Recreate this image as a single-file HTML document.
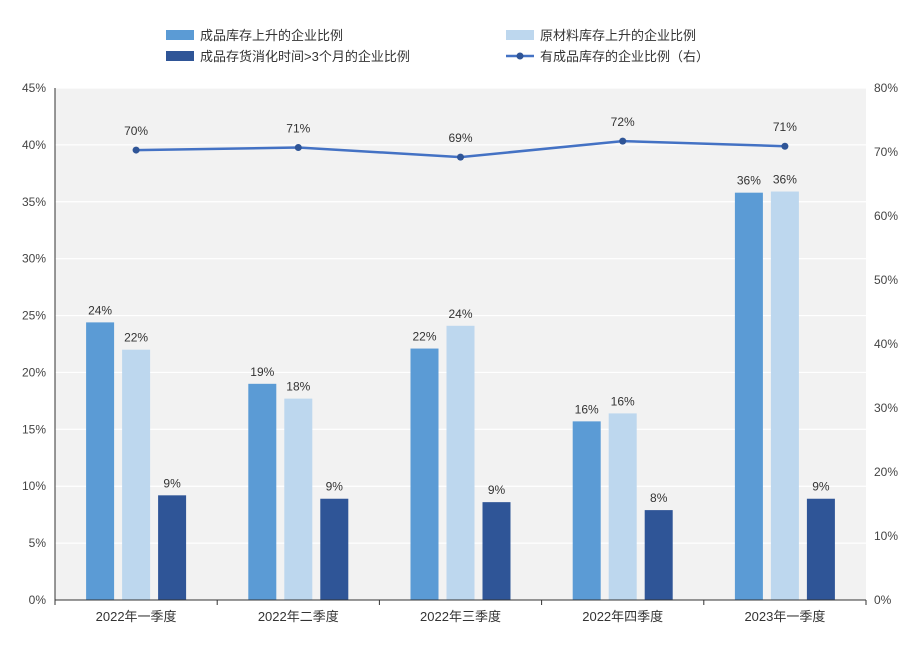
<!DOCTYPE html>
<html><head><meta charset="utf-8"><style>
body{margin:0;background:#fff;font-family:"Liberation Sans","Noto Sans CJK SC",sans-serif;}
svg text{font-family:"Liberation Sans","Noto Sans CJK SC",sans-serif;}
</style></head><body>
<svg id="chart" width="915" height="641">
<rect x="55" y="88" width="811" height="512" fill="#f2f2f2"/>
<g id="grid"></g><g id="bars"></g><g id="line"></g><g id="axes"></g>
<g font-size="13" fill="#333">
<rect x="166" y="30" width="28" height="10" fill="#5b9bd5"/>
<text x="200" y="40">成品库存上升的企业比例</text>
<rect x="506" y="30" width="28" height="10" fill="#bdd7ee"/>
<text x="540" y="40">原材料库存上升的企业比例</text>
<rect x="166" y="51" width="28" height="10" fill="#2f5597"/>
<text x="200" y="61">成品存货消化时间&gt;3个月的企业比例</text>
<line x1="506" y1="56" x2="534" y2="56" stroke="#4472c4" stroke-width="2.5"/>
<circle cx="520" cy="56" r="3.5" fill="#2f5597"/>
<text x="540" y="61">有成品库存的企业比例（右）</text>
</g>
</svg>
<script>
const categories=["2022年一季度","2022年二季度","2022年三季度","2022年四季度","2023年一季度"];
const finishedUp=[24.4,19.0,22.1,15.7,35.8];
const rawUp=[22.0,17.7,24.1,16.4,35.9];
const slowDigest=[9.2,8.9,8.6,7.9,8.9];
const hasInventory=[70.3,70.7,69.2,71.7,70.9];
const finishedLabels=["24%","19%","22%","16%","36%"];
const rawLabels=["22%","18%","24%","16%","36%"];
const slowLabels=["9%","9%","9%","8%","9%"];
const lineLabels=["70%","71%","69%","72%","71%"];
const leftTicks=[0,5,10,15,20,25,30,35,40,45];
const rightTicks=[0,10,20,30,40,50,60,70,80];
const NS="http://www.w3.org/2000/svg";
const X0=55,X1=866,Y0=600,Y1=88;
const yL=v=>Y0-(v/45)*(Y0-Y1);
const yR=v=>Y0-(v/80)*(Y0-Y1);
const step=(X1-X0)/categories.length;
const xC=i=>X0+step*(i+0.5);
function mk(tag,attrs,parent,text){const e=document.createElementNS(NS,tag);for(const k in attrs)e.setAttribute(k,attrs[k]);if(text!==undefined)e.textContent=text;document.getElementById(parent).appendChild(e);return e;}
leftTicks.forEach(t=>{
 if(t>0){const g=mk("line",{x1:X0,x2:X1,y1:yL(t),y2:yL(t),stroke:"#fff","stroke-width":1.2},"grid");
 
 }
 const l=mk("text",{x:46,y:yL(t)+4,"text-anchor":"end","font-size":12,fill:"#444"},"axes",t+"%");
 
 
});
rightTicks.forEach(t=>{
 const l=mk("text",{x:874,y:yR(t)+4,"font-size":12,fill:"#444"},"axes",t+"%");
 
 
});
const ax=mk("line",{x1:X0,x2:X1,y1:Y0,y2:Y0,stroke:"#333","stroke-width":1},"axes");


const ay=mk("line",{x1:X0,x2:X0,y1:Y1,y2:Y0,stroke:"#333","stroke-width":1},"axes");


for(let i=0;i<=categories.length;i++){
 const tk=mk("line",{x1:X0+step*i,x2:X0+step*i,y1:Y0,y2:Y0+5,stroke:"#333"},"axes");
 
 
}
const series=[[finishedUp,finishedLabels,"#5b9bd5",-36,"finished-up"],[rawUp,rawLabels,"#bdd7ee",0,"raw-up"],[slowDigest,slowLabels,"#2f5597",36,"slow-digest"]];
categories.forEach((c,i)=>{
 const l=mk("text",{x:xC(i),y:621,"text-anchor":"middle","font-size":13,fill:"#333"},"axes",c);
 
 
 series.forEach(s=>{
  const v=s[0][i],cx=xC(i)+s[3];
  const r=mk("rect",{x:cx-14,y:yL(v),width:28,height:Y0-yL(v),fill:s[2]},"bars");
  
  
  const t=mk("text",{x:cx,y:yL(v)-8,"text-anchor":"middle","font-size":12,fill:"#333"},"bars",s[1][i]);
  
  
 });
});
const pts=hasInventory.map((v,i)=>xC(i)+","+yR(v)).join(" ");
const pl=mk("polyline",{points:pts,fill:"none",stroke:"#4472c4","stroke-width":2.5},"line");


hasInventory.forEach((v,i)=>{
 const p=mk("circle",{cx:xC(i),cy:yR(v),r:3.5,fill:"#2f5597"},"line");
 
 
 const t=mk("text",{x:xC(i),y:yR(v)-15,"text-anchor":"middle","font-size":12,fill:"#333"},"line",lineLabels[i]);
 
 
});
</script>
</body></html>
